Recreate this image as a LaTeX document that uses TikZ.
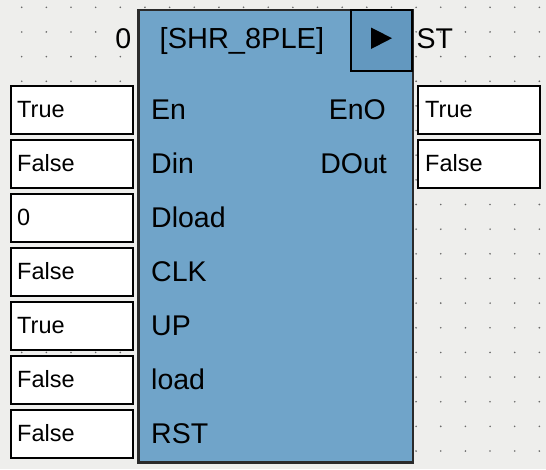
\documentclass[tikz,border=0pt]{standalone}
\usepackage{fontspec}
\setmainfont{Liberation Sans}
\definecolor{bg}{HTML}{EEEEEC}
\definecolor{blockfill}{HTML}{70A4C9}
\definecolor{stfill}{HTML}{6398BF}
\definecolor{blockline}{HTML}{2B2B2B}
\definecolor{dotc}{HTML}{6A6A6A}
\tikzset{
  valbox/.style={draw=black, line width=2pt, fill=white, minimum width=122.5pt, minimum height=48pt, inner sep=0pt, anchor=north west},
  valtext/.style={inner sep=0pt, anchor=base west, font=\fontsize{23.5}{26}\selectfont},
  lbl/.style={inner sep=0pt, anchor=base west, font=\fontsize{28.5}{32}\selectfont},
  lblr/.style={inner sep=0pt, anchor=base east, font=\fontsize{28.5}{32}\selectfont},
}
\begin{document}
\begin{tikzpicture}[x=1pt,y=-1pt]
\fill[bg] (0,0) rectangle (546,469);
\useasboundingbox (0,0) rectangle (546,469);
% dot grid
\foreach \i in {0,...,21}{
  \foreach \j in {0,...,18}{
    \fill[dotc] (21.7+24.65*\i,7.3+24.65*\j) circle (0.9);
  }
}
% main block
\node[draw=blockline, line width=2.5pt, fill=blockfill, minimum width=274.5pt, minimum height=452.5pt, inner sep=0pt, anchor=north west] (blk) at (137.2,8.5) {};
\node[draw=black, line width=2pt, fill=stfill, minimum width=61.5pt, minimum height=61pt, inner sep=0pt, anchor=north west] (stbox) at (349.8,8.5) {};
\fill[black] (371,27.5) -- (371,49) -- (392,38.2) -- cycle;
\node[lbl, font=\fontsize{29}{32}\selectfont] (title) at (159.5,48) {[SHR\_8PLE]};
\node[lblr] (zero) at (131.5,48) {0};
\node[lbl] (st) at (416.5,48) {ST};
% input labels
\node[lbl] (lEn) at (151,119) {En};
\node[lbl] (lDin) at (151,173) {Din};
\node[lbl] (lDload) at (151,227) {Dload};
\node[lbl] (lCLK) at (151,281) {CLK};
\node[lbl] (lUP) at (151,335) {UP};
\node[lbl] (lload) at (151,389) {load};
\node[lbl] (lRST) at (151,443) {RST};
% output labels
\node[lblr] (lEnO) at (386,119) {EnO};
\node[lblr] (lDOut) at (387,173) {DOut};
% input value boxes
\foreach \k/\v/\nm in {0/True/a,1/False/b,2/0/c,3/False/d,4/True/e,5/False/f,6/False/g}{
  \node[valbox] (in\nm) at (9.5,85+54*\k) {};
  \node[valtext] (tin\nm) at (17,117.5+54*\k) {\v};
}
% output value boxes
\node[valbox] (outa) at (416.5,85) {};
\node[valtext] (touta) at (425,117.5) {True};
\node[valbox] (outb) at (416.5,139) {};
\node[valtext] (toutb) at (425,171.5) {False};
\end{tikzpicture}
\end{document}
